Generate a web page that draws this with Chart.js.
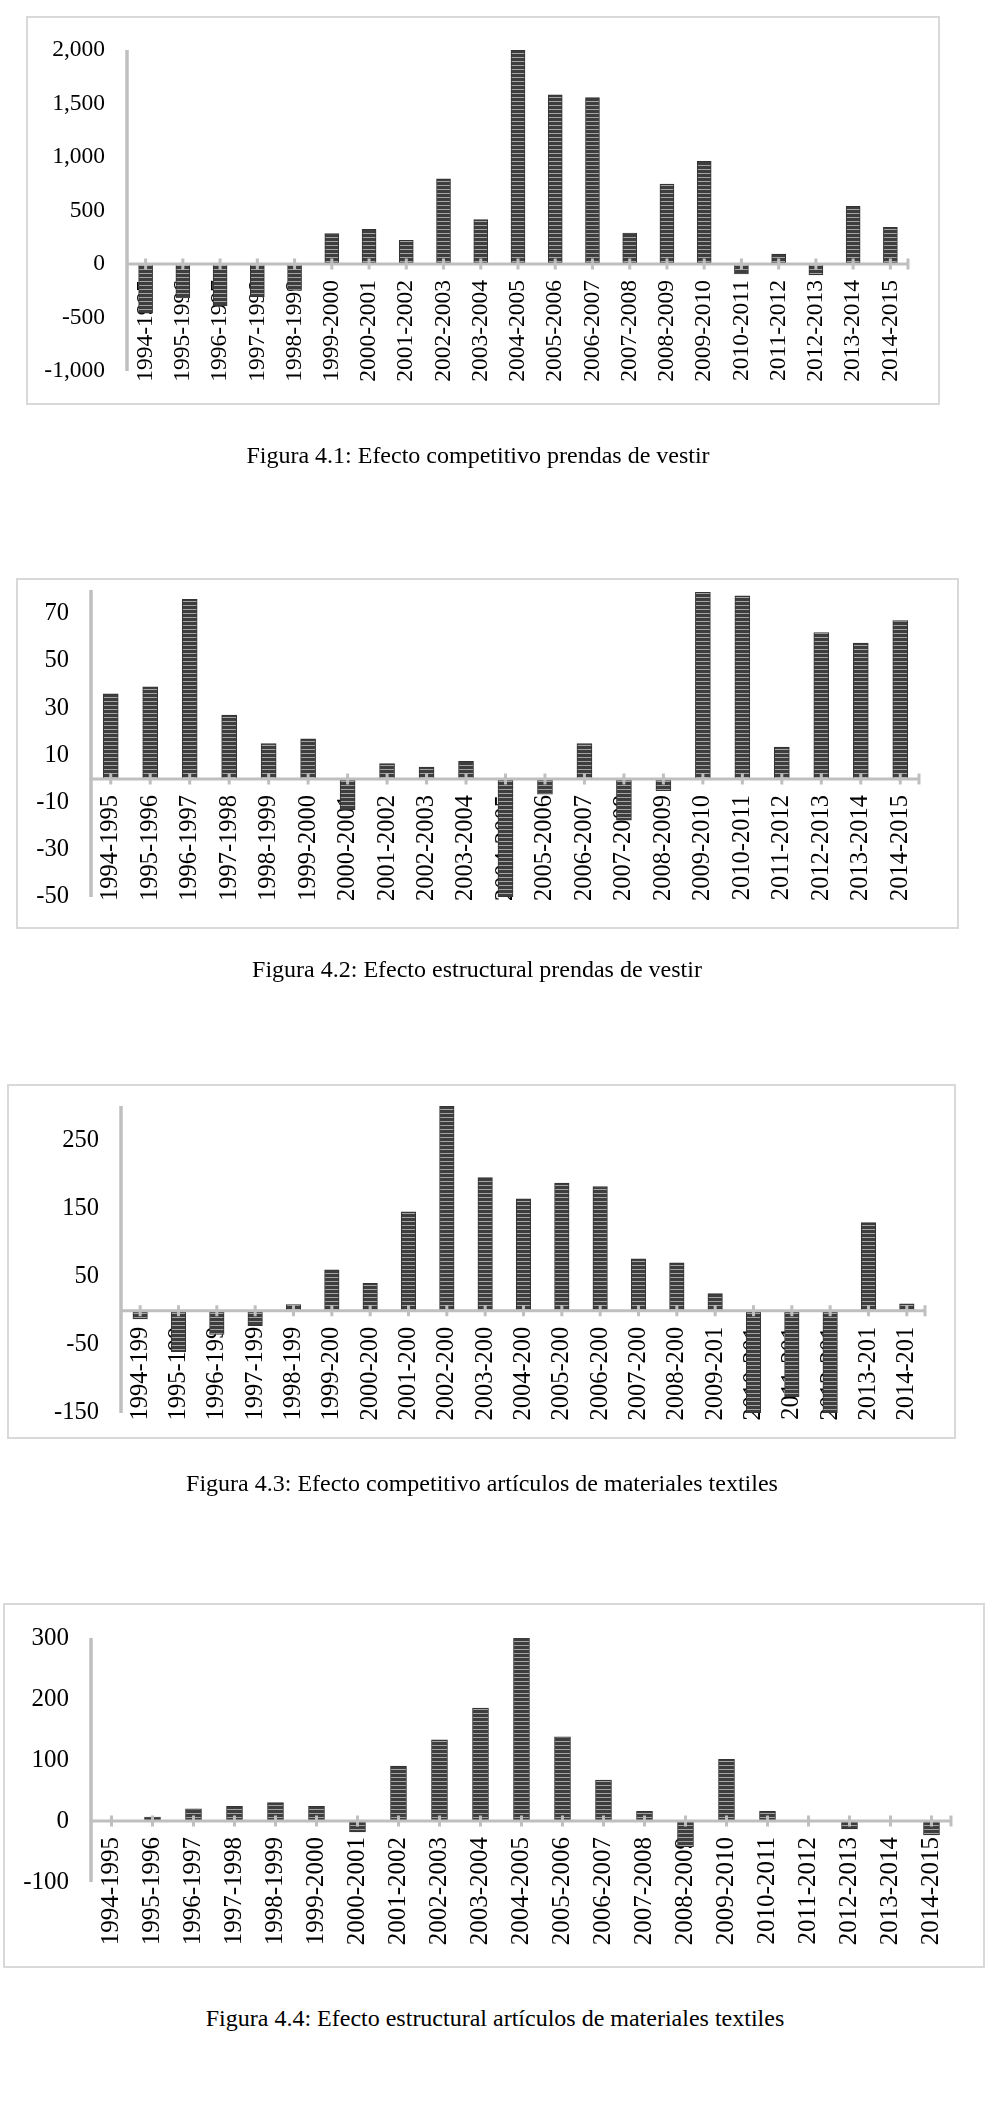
<!DOCTYPE html>
<html>
<head>
<meta charset="utf-8">
<script src="https://cdn.jsdelivr.net/npm/chart.js@4.4.1/dist/chart.umd.min.js"></script>
<style>
  body { margin: 0; background: #fff; width: 992px; height: 2120px; position: relative; overflow: hidden;
         font-family: 'Liberation Serif', 'Times New Roman', serif; }
  .frame { position: absolute; border: 2px solid #d9d9d9; box-sizing: border-box; }
  canvas { position: absolute; left: 0; }
  .cap { position: absolute; font-size: 24px; line-height: 24px; white-space: nowrap;
         transform: translateX(-50%); color: #000; }
</style>
</head>
<body>
<div class="frame" style="left:26px;top:16px;width:914px;height:389px"></div>
<div class="frame" style="left:16px;top:578px;width:943px;height:351px"></div>
<div class="frame" style="left:7px;top:1084px;width:949px;height:355px"></div>
<div class="frame" style="left:3px;top:1603px;width:982px;height:365px"></div>

<canvas id="c1"></canvas>
<canvas id="c2"></canvas>
<canvas id="c3"></canvas>
<canvas id="c4"></canvas>

<div class="cap" style="left:478px;top:443px">Figura 4.1: Efecto competitivo prendas de vestir</div>
<div class="cap" style="left:477px;top:957px">Figura 4.2: Efecto estructural prendas de vestir</div>
<div class="cap" style="left:482px;top:1471px">Figura 4.3: Efecto competitivo artículos de materiales textiles</div>
<div class="cap" style="left:495px;top:2006px">Figura 4.4: Efecto estructural artículos de materiales textiles</div>

<script>
// periods
const categories = ['1994-1995', '1995-1996', '1996-1997', '1997-1998', '1998-1999', '1999-2000',
  '2000-2001', '2001-2002', '2002-2003', '2003-2004', '2004-2005', '2005-2006', '2006-2007',
  '2007-2008', '2008-2009', '2009-2010', '2010-2011', '2011-2012', '2012-2013', '2013-2014', '2014-2015'];
// figure 4.3 shows the labels cut off
const categoriesCut = ['1994-199', '1995-199', '1996-199', '1997-199', '1998-199', '1999-200',
  '2000-200', '2001-200', '2002-200', '2003-200', '2004-200', '2005-200', '2006-200',
  '2007-200', '2008-200', '2009-201', '2010-201', '2011-201', '2012-201', '2013-201', '2014-201'];

const competitivoPrendas = [-460, -318, -390, -308, -246, 285, 325, 222, 795, 415, 2000, 1580, 1555,
  288, 748, 960, -93, 93, -103, 539, 343];
const estructuralPrendas = [36, 39, 76, 27, 15, 17, -13, 6.5, 5, 7.5, -50, -6.5, 15,
  -17.5, -5, 79, 77.5, 13.5, 62, 57.5, 67];
const competitivoTextiles = [-12, -60, -35, -22, 9, 60, 40, 145, 300, 195, 164, 187, 182,
  76, 70, 25, -150, -126, -150, 129, 10];
const estructuralTextiles = [0, 6.5, 20, 24, 30, 24, -18, 90, 133, 185, 302, 138, 67,
  16, -42, 101, 16, 0, -13, 0, -23];

const ticksCompPrendas = [-1000, -500, 0, 500, 1000, 1500, 2000];
const ticksEstrPrendas = [-50, -30, -10, 10, 30, 50, 70];
const ticksCompTextiles = [-150, -50, 50, 150, 250];
const ticksEstrTextiles = [-100, 0, 100, 200, 300];

Chart.defaults.font.family = "'Liberation Serif', 'Times New Roman', serif";
Chart.defaults.color = '#000';

const AXIS_GRAY = '#bfbfbf';

// dark horizontal hatch like the excel fill
function stripes() {
  const c = document.createElement('canvas');
  c.width = 4; c.height = 4;
  const g = c.getContext('2d');
  g.fillStyle = '#3e3e3e';
  g.fillRect(0, 0, 4, 4);
  g.fillStyle = '#a4a4a4';
  g.fillRect(0, 3, 4, 1);
  return g.createPattern(c, 'repeat');
}

// excel style axes: y line, zero line and ticks crossing it
const axisLines = {
  id: 'axisLines',
  afterDatasetsDraw(chart) {
    const { ctx, chartArea: a, scales: { x, y } } = chart;
    const y0 = y.getPixelForValue(0);
    ctx.save();
    ctx.strokeStyle = AXIS_GRAY;
    ctx.lineWidth = 3.5;
    ctx.beginPath();
    ctx.moveTo(a.left, a.top);
    ctx.lineTo(a.left, a.bottom);
    ctx.stroke();
    ctx.lineWidth = 3;
    ctx.beginPath();
    ctx.moveTo(a.left, y0);
    ctx.lineTo(a.right, y0);
    x.ticks.forEach((t, i) => {
      const px = x.getPixelForTick(i);
      ctx.moveTo(px, y0 - 5.5);
      ctx.lineTo(px, y0 + 5.5);
    });
    ctx.moveTo(a.right - 1, y0 - 5.5);
    ctx.lineTo(a.right - 1, y0 + 5.5);
    ctx.stroke();
    ctx.restore();
  }
};

function makeChart(id, area, labels, values, yMin, yMax, yTicks, o) {
  const padTop = 40, padBottom = 110;
  const cv = document.getElementById(id);
  cv.width = 992;
  cv.height = area.bottom - area.top + padTop + padBottom;
  cv.style.top = (area.top - padTop) + 'px';

  return new Chart(cv, {
    type: 'bar',
    data: {
      labels,
      datasets: [{
        data: values,
        backgroundColor: stripes(),
        borderColor: '#333',
        borderWidth: 1,
        barThickness: o.bar
      }]
    },
    options: {
      responsive: false,
      animation: false,
      layout: { padding: { left: 0, right: 992 - area.right, top: padTop, bottom: padBottom } },
      plugins: { legend: { display: false }, tooltip: { enabled: false } },
      scales: {
        x: {
          position: { y: 0 },
          z: 1,
          grid: { display: false, drawTicks: false },
          border: { display: false },
          ticks: {
            autoSkip: false, minRotation: 90, maxRotation: 90, padding: 16,
            font: { size: o.xFont }, color: '#000'
          },
          afterFit: s => { s.height = 0; }
        },
        y: {
          min: yMin, max: yMax,
          grid: { display: false, drawTicks: false },
          border: { display: false },
          ticks: {
            padding: 22, font: { size: o.yFont }, color: '#000',
            callback: v => v.toLocaleString('en-US')
          },
          afterBuildTicks: s => { s.ticks = yTicks.map(v => ({ value: v })); },
          afterFit: s => { s.width = area.left; }
        }
      }
    },
    plugins: [axisLines]
  });
}

makeChart('c1', { left: 127, right: 909, top: 50, bottom: 371 }, categories, competitivoPrendas,
  -1000, 2000, ticksCompPrendas, { bar: 14, xFont: 23.5, yFont: 23.5 });
makeChart('c2', { left: 91, right: 920, top: 590, bottom: 897 }, categories, estructuralPrendas,
  -50, 80, ticksEstrPrendas, { bar: 15, xFont: 24.5, yFont: 24.5 });
makeChart('c3', { left: 121, right: 926, top: 1106, bottom: 1413 }, categoriesCut, competitivoTextiles,
  -150, 300, ticksCompTextiles, { bar: 14.5, xFont: 24.5, yFont: 24.5 });
makeChart('c4', { left: 91, right: 952, top: 1638, bottom: 1882 }, categories, estructuralTextiles,
  -100, 300, ticksEstrTextiles, { bar: 16, xFont: 25, yFont: 25 });
</script>
</body>
</html>
